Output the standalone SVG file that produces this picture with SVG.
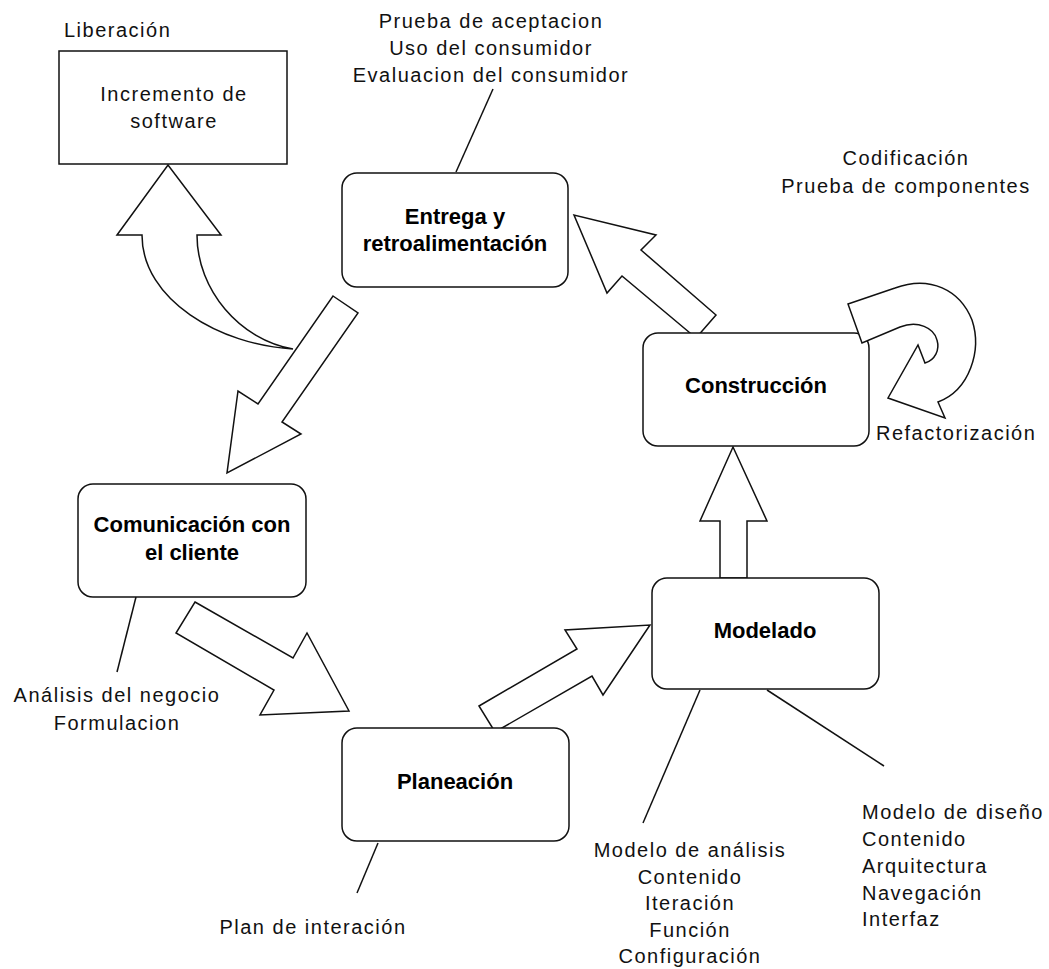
<svg xmlns="http://www.w3.org/2000/svg" width="1049" height="969" viewBox="0 0 1049 969">
  <style>
    .box { fill: #fff; stroke: #111; stroke-width: 1.5; }
    .arrow { fill: #fff; stroke: #111; stroke-width: 1.5; stroke-linejoin: miter; }
    .lead { stroke: #111; stroke-width: 1.5; fill: none; }
    .t { font-family: "Liberation Sans", Arial, sans-serif; font-size: 20px; letter-spacing: 1.5px; fill: #111; }
    .b { font-family: "Liberation Sans", Arial, sans-serif; font-size: 22px; font-weight: bold; fill: #000; text-anchor: middle; }
    .c { text-anchor: middle; }
  </style>
  <rect width="1049" height="969" fill="#fff"/>

  <!-- block arrows between stages and leader lines to annotations -->
  <g id="connectors">
    <path class="arrow" d="M117,235 L168,165 L221,235 L197,235 C197,290 240,340 293,349 C220,345 142,300 142,235 Z"/>
    <polygon class="arrow" points="333,296 358,313 282,422 301,434 227,473 238,391 258,404"/>
    <polygon class="arrow" points="195,602 293,658 307,633 349,711 260,715 274,690 176,633"/>
    <polygon class="arrow" points="479,706 577,649 565,630 650,625 603,695 592,676 495,732"/>
    <polygon class="arrow" points="720,578 720,521 700,521 733,447 767,521 747,521 747,578"/>
    <polygon class="arrow" points="696,338 622,276 607,293 574,215 656,235 641,250 716,315"/>
    <line class="lead" x1="456" y1="172" x2="493" y2="89"/>
    <line class="lead" x1="136" y1="597" x2="117" y2="672"/>
    <line class="lead" x1="378" y1="843" x2="357" y2="893"/>
    <line class="lead" x1="700" y1="690" x2="643" y2="823"/>
    <line class="lead" x1="767" y1="690" x2="884" y2="766"/>
  </g>

  <g id="incremento">
    <rect class="box" x="59" y="51" width="228" height="113"/>
    <text class="t c" x="174" y="101">Incremento de</text>
    <text class="t c" x="174" y="128">software</text>
  </g>

  <g id="entrega">
    <rect class="box" x="342" y="173" width="226" height="114" rx="15"/>
    <text class="b" x="455" y="224">Entrega y</text>
    <text class="b" x="455" y="251">retroalimentación</text>
  </g>

  <g id="comunicacion">
    <rect class="box" x="78" y="484" width="228" height="113" rx="15"/>
    <text class="b" x="192" y="532">Comunicación con</text>
    <text class="b" x="192" y="560">el cliente</text>
  </g>

  <g id="planeacion">
    <rect class="box" x="342" y="728" width="227" height="113" rx="15"/>
    <text class="b" x="455" y="789">Planeación</text>
  </g>

  <g id="modelado">
    <rect class="box" x="652" y="578" width="227" height="111" rx="15"/>
    <text class="b" x="765" y="638">Modelado</text>
  </g>

  <g id="construccion">
    <rect class="box" x="643" y="333" width="226" height="113" rx="15"/>
    <text class="b" x="756" y="393">Construcción</text>
  </g>

  <!-- self loop on the construction stage, drawn over the box corner -->
  <g id="refactor-loop">
    <path class="arrow" d="M848,304 L895,288 C930,275 960,290 972,320 C982,350 970,390 938,402 L945,418 L888,398 L918,345 L925,363 C935,360 940,350 937,340 C934,328 918,320 900,327 L862,343 Z"/>
  </g>

  <g id="labels">
    <text class="t" x="64" y="37">Liberación</text>
    <text class="t c" x="491" y="28">Prueba de aceptacion</text>
    <text class="t c" x="491" y="55">Uso del consumidor</text>
    <text class="t c" x="491" y="82">Evaluacion del consumidor</text>
    <text class="t c" x="906" y="165">Codificación</text>
    <text class="t c" x="906" y="193">Prueba de componentes</text>
    <text class="t" x="876" y="440">Refactorización</text>
    <text class="t c" x="117" y="702">Análisis del negocio</text>
    <text class="t c" x="117" y="730">Formulacion</text>
    <text class="t c" x="313" y="934">Plan de interación</text>
    <text class="t c" x="690" y="857">Modelo de análisis</text>
    <text class="t c" x="690" y="884">Contenido</text>
    <text class="t c" x="690" y="910">Iteración</text>
    <text class="t c" x="690" y="937">Función</text>
    <text class="t c" x="690" y="963">Configuración</text>
    <text class="t" x="862" y="819">Modelo de diseño</text>
    <text class="t" x="862" y="846">Contenido</text>
    <text class="t" x="862" y="873">Arquitectura</text>
    <text class="t" x="862" y="900">Navegación</text>
    <text class="t" x="862" y="926">Interfaz</text>
  </g>
</svg>
